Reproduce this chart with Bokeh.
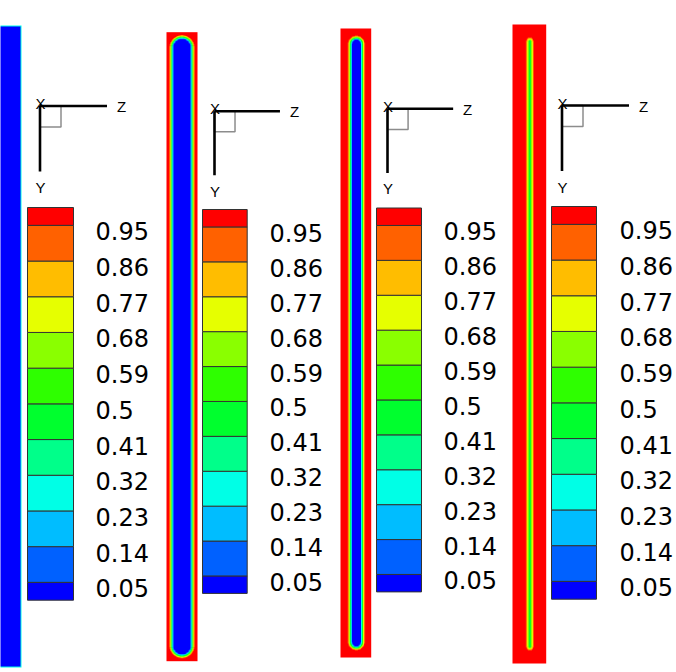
import numpy as np
from bokeh.plotting import figure
from bokeh.models import Range1d, LinearColorMapper
from bokeh.core.properties import value
from bokeh.embed import file_html
from bokeh.resources import INLINE

W, H = 676, 672

# contour levels of the concentration legend
levels = [0.05, 0.14, 0.23, 0.32, 0.41, 0.5, 0.59, 0.68, 0.77, 0.86, 0.95]
level_labels = ["0.05", "0.14", "0.23", "0.32", "0.41", "0.5",
                "0.59", "0.68", "0.77", "0.86", "0.95"]
# flood colours: below 0.05, one per interval, above 0.95
band_colors = ["#0000ff", "#0061ff", "#00bdff", "#00ffe6", "#00ff8a", "#00ff2e",
               "#2eff00", "#8aff00", "#e6ff00", "#ffbd00", "#ff6100", "#ff0000"]

# diffusion front at the four time steps, in units of the column width
core_halfwidth = [0.50, 0.34, 0.195, 0.02]     # half-width of the unpenetrated core
front_width = [0.032, 0.071, 0.072, 0.10]      # half-thickness of the transition zone
core_rounding = [0.0, 1.0, 1.0, 1.0]           # tip rounding of the core

# ---- page layout (pixels from the top-left corner) ----
col_x0 = [-10.0, 166.0, 340.0, 512.0]
col_x1 = [21.0, 197.0, 370.7, 545.7]
col_y0 = [25.0, 31.7, 28.0, 24.0]
col_y1 = [667.0, 660.7, 657.0, 663.0]

cb_x0 = [27.0, 202.0, 376.0, 551.0]
cb_x1 = [73.0, 246.7, 421.0, 596.0]
cb_top = [207.0, 209.0, 207.5, 206.0]
cb_step = [35.7, 34.9, 34.9, 35.7]
lab_x = [95.0, 269.0, 443.0, 619.0]

tri_ox = [39.5, 214.0, 387.0, 561.5]
tri_oy = [105.5, 110.7, 108.3, 105.0]
tri_scale = [1.0, 0.977, 0.98, 1.0]


def Y(y):
    """convert a top-down pixel row to the plot's upward y"""
    return H - y


p = figure(width=W, height=H, x_range=Range1d(0, W), y_range=Range1d(0, H),
           output_backend="svg", toolbar_location=None, min_border=0,
           x_axis_type=None, y_axis_type=None)
p.grid.visible = False
p.outline_line_color = None
p.background_fill_color = "white"
p.border_fill_color = "white"

mapper = LinearColorMapper(palette=band_colors, low=-0.5, high=len(band_colors) - 0.5)

for k in range(4):
    # ---- concentration field in the column ----
    x0, x1, y0, y1 = col_x0[k], col_x1[k], col_y0[k], col_y1[k]
    cw = x1 - x0
    nx, ny = int(round(x1 - x0)), int(round(y1 - y0))
    u = (np.arange(nx) + 0.5) / nx - 0.5
    v = ((np.arange(ny) + 0.5) / ny - 0.5) * (y1 - y0) / cw
    U, V = np.meshgrid(u, v)
    a = core_halfwidth[k]
    b = (y1 - y0) / cw / 2 - (0.5 - a)
    r = core_rounding[k] * a
    qx = np.abs(U) - (a - r)
    qy = np.abs(V) - (b - r)
    sd = (np.hypot(np.maximum(qx, 0), np.maximum(qy, 0))
          + np.minimum(np.maximum(qx, qy), 0) - r)
    conc = np.clip(0.5 + 0.5 * sd / front_width[k], 0.0, 1.0)
    band = np.digitize(conc, levels).astype(float)
    p.image(image=[band], x=x0, y=Y(y1), dw=x1 - x0, dh=y1 - y0,
            color_mapper=mapper)

    # ---- legend bar ----
    step = cb_step[k]
    half = step / 2
    bnd = [cb_top[k] + half + (10 - i) * step for i in range(len(levels))]
    tops, bots = [], []
    for j in range(len(band_colors)):
        if j == 0:
            t, bt = bnd[0], bnd[0] + half
        elif j == len(band_colors) - 1:
            t, bt = cb_top[k], bnd[-1]
        else:
            t, bt = bnd[j], bnd[j - 1]
        tops.append(Y(t))
        bots.append(Y(bt))
    p.quad(left=[cb_x0[k]] * len(band_colors), right=[cb_x1[k]] * len(band_colors),
           top=tops, bottom=bots, fill_color=band_colors,
           line_color="#333333", line_width=1)
    p.text(x=[lab_x[k]] * len(levels), y=[Y(yb + 6) for yb in bnd],
           text=level_labels, text_font=value("DejaVu Sans"),
           text_font_size="24px", text_color="black",
           text_align="left", text_baseline="middle")

    # ---- orientation triad ----
    s = tri_scale[k]
    ox, oy = tri_ox[k], tri_oy[k]
    hl, vl, sq = 67 * s, 65.5 * s, 21 * s
    p.quad(left=[ox], right=[ox + sq], top=[Y(oy)], bottom=[Y(oy + sq)],
           fill_color=None, line_color="#8c8c8c", line_width=1.5)
    p.multi_line(xs=[[ox, ox + hl], [ox, ox]],
                 ys=[[Y(oy), Y(oy)], [Y(oy), Y(oy + vl)]],
                 line_color="black", line_width=2.6)
    p.text(x=[ox + 0.5, ox + hl + 14.5, ox + 0.5],
           y=[Y(oy - 2.5), Y(oy + 0.5), Y(oy + vl + 16)],
           text=["X", "Z", "Y"], text_font=value("Liberation Sans"),
           text_font_size="15px", text_color="black",
           text_align="center", text_baseline="middle")

open("out.html", "w").write(file_html(p, INLINE))
